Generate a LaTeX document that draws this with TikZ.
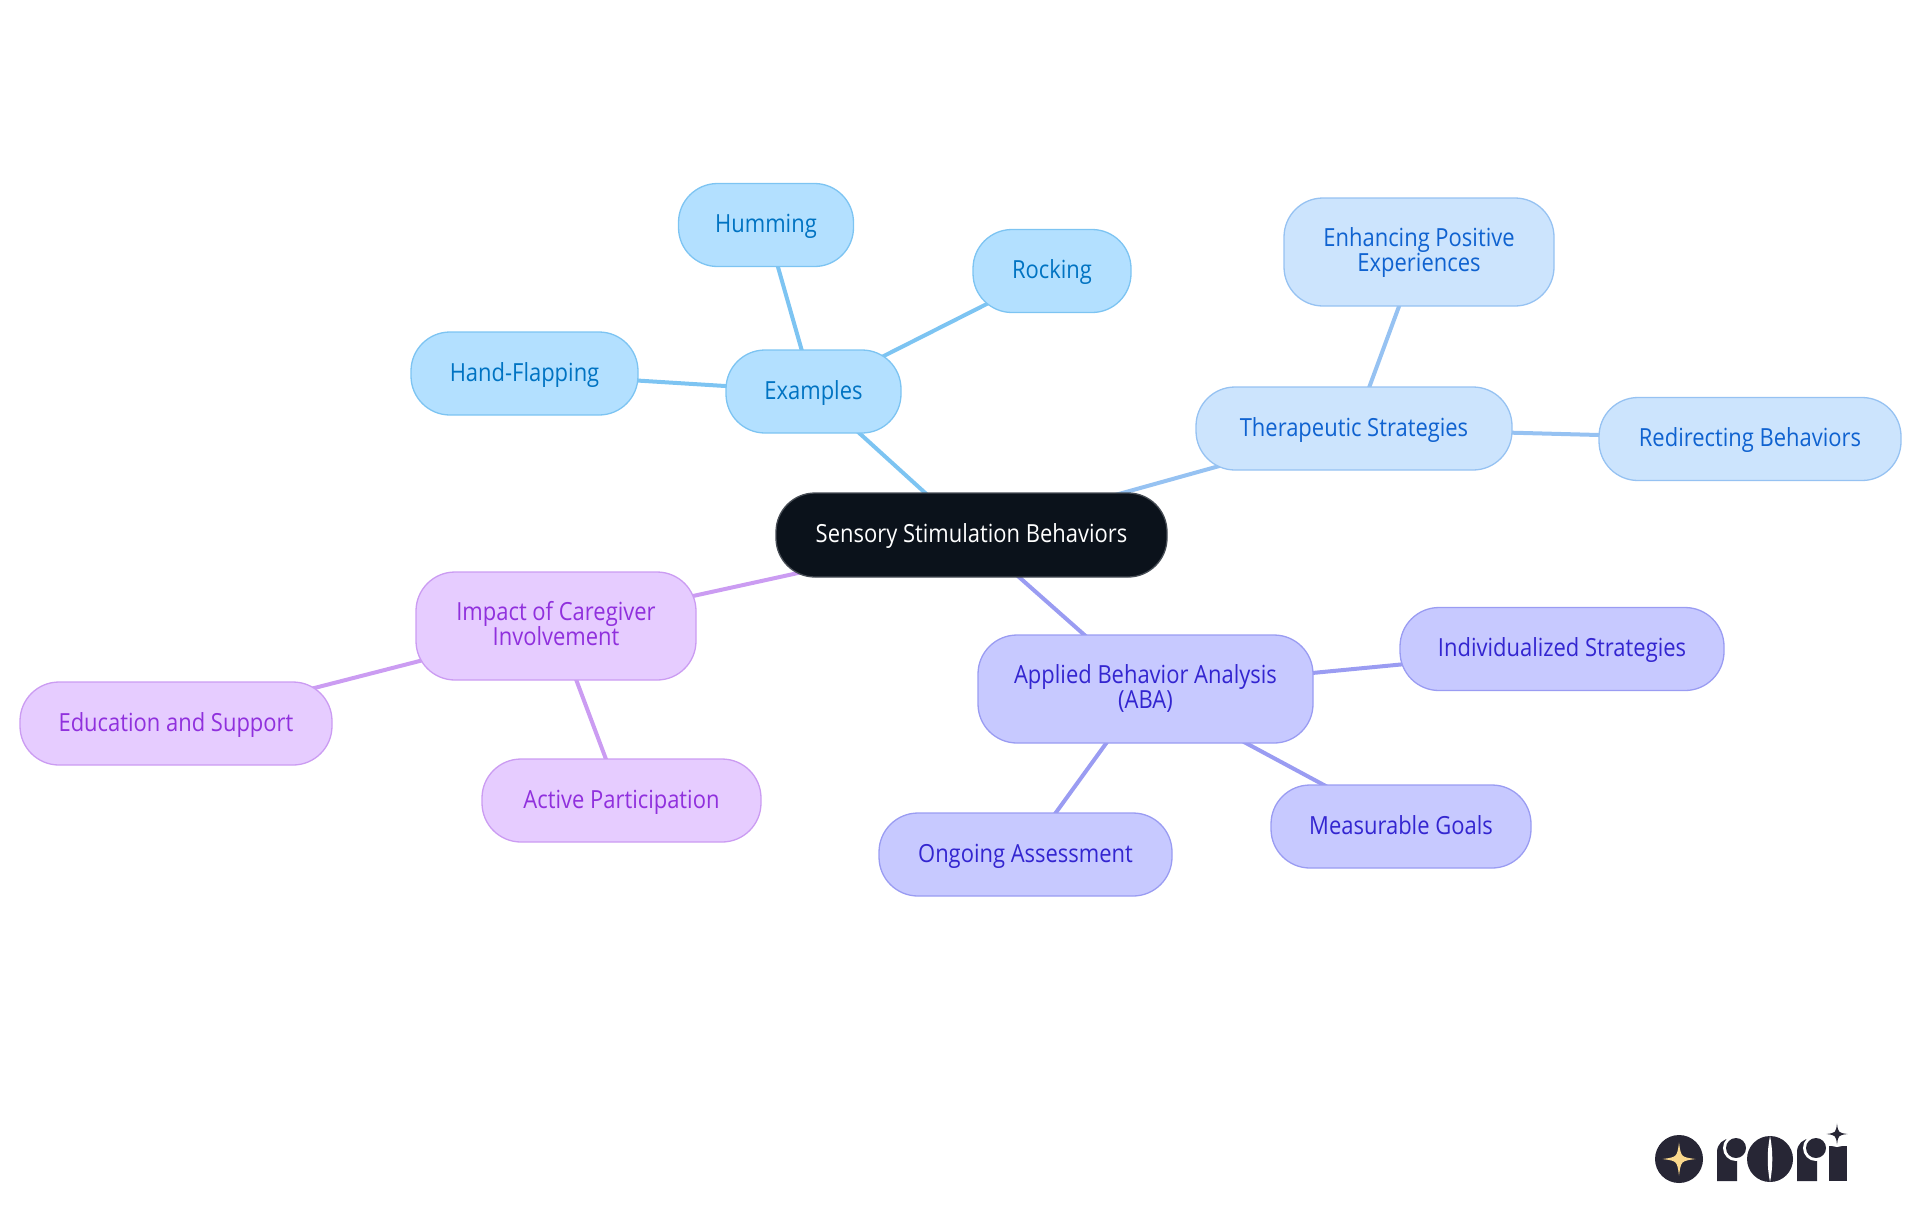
\documentclass[tikz,border=0pt]{standalone}
\usepackage{fontspec}
\usepackage{xcolor}
\usepackage{tikz}
\usetikzlibrary{
	backgrounds
}
\setmainfont[FakeStretch=0.88]{Open Sans}
\definecolor{RootFill}{RGB}{11,18,27}
\definecolor{RootLine}{RGB}{70,76,84}
\definecolor{SkyFill}{RGB}{179,224,255}
\definecolor{SkyLine}{RGB}{125,196,242}
\definecolor{SkyText}{RGB}{0,115,194}
\definecolor{PaleFill}{RGB}{204,228,253}
\definecolor{PaleLine}{RGB}{150,194,242}
\definecolor{PaleText}{RGB}{15,98,208}
\definecolor{IndigoFill}{RGB}{199,201,255}
\definecolor{IndigoLine}{RGB}{154,156,242}
\definecolor{IndigoText}{RGB}{51,37,208}
\definecolor{LilacFill}{RGB}{230,204,255}
\definecolor{LilacLine}{RGB}{203,156,242}
\definecolor{LilacText}{RGB}{144,48,221}
\definecolor{LogoDark}{RGB}{39,38,53}
\definecolor{LogoStar}{RGB}{250,216,140}
\newcommand{\linestrut}{\rule[-0.6mm]{0pt}{2.6mm}}
\setlength{\lineskiplimit}{-5pt}
\tikzset{
	mapnode/.style={rounded corners=0.39cm, align=center, inner sep=0pt, outer sep=0pt,
		line width=0.13mm, font=\fontsize{7.1}{7.11}\selectfont},
	rootnode/.style={mapnode, fill=RootFill, draw=RootLine, text=white},
	skynode/.style={mapnode, fill=SkyFill, draw=SkyLine, text=SkyText},
	palenode/.style={mapnode, fill=PaleFill, draw=PaleLine, text=PaleText},
	indigonode/.style={mapnode, fill=IndigoFill, draw=IndigoLine, text=IndigoText},
	lilacnode/.style={mapnode, fill=LilacFill, draw=LilacLine, text=LilacText},
	oneline/.style={text height=2.05mm, text depth=0.5mm},
	skyedge/.style={line width=0.4mm, draw=SkyLine},
	paleedge/.style={line width=0.4mm, draw=PaleLine},
	indigoedge/.style={line width=0.4mm, draw=IndigoLine},
	lilacedge/.style={line width=0.4mm, draw=LilacLine},
	sparkle/.pic={
		\fill[pic actions] (0,-1) .. controls (0.12,-0.12) .. (1,0) .. controls (0.12,0.12) .. (0,1)
			.. controls (-0.12,0.12) .. (-1,0) .. controls (-0.12,-0.12) .. (0,-1) -- cycle;
	}
}

\begin{document}
\begin{tikzpicture}[y=-1cm]
	\useasboundingbox (0,0) rectangle (19.2,12.15);
	\node[rootnode, oneline, minimum width=3.91cm, minimum height=0.84cm] (root) at (9.715,5.35) {Sensory Stimulation Behaviors};
	% blue branch
	\node[skynode, oneline, minimum width=1.75cm, minimum height=0.83cm] (examples) at (8.135,3.915) {Examples};
	\node[skynode, oneline, minimum width=1.75cm, minimum height=0.83cm] (humming) at (7.66,2.25) {Humming};
	\node[skynode, oneline, minimum width=1.58cm, minimum height=0.83cm] (rocking) at (10.52,2.71) {Rocking};
	\node[skynode, oneline, minimum width=2.27cm, minimum height=0.83cm] (flapping) at (5.245,3.735) {Hand-Flapping};
	% pale branch
	\node[palenode, oneline, minimum width=3.16cm, minimum height=0.83cm] (therapy) at (13.54,4.285) {Therapeutic Strategies};
	\node[palenode, minimum width=2.70cm, minimum height=1.08cm] (enhancing) at (14.19,2.52) {\linestrut Enhancing Positive\\\linestrut Experiences};
	\node[palenode, oneline, minimum width=3.02cm, minimum height=0.83cm] (redirecting) at (17.50,4.39) {Redirecting Behaviors};
	% indigo branch
	\node[indigonode, minimum width=3.35cm, minimum height=1.08cm] (aba) at (11.455,6.89) {\linestrut Applied Behavior Analysis\\\linestrut (ABA)};
	\node[indigonode, oneline, minimum width=3.24cm, minimum height=0.83cm] (individual) at (15.62,6.49) {Individualized Strategies};
	\node[indigonode, oneline, minimum width=2.60cm, minimum height=0.83cm] (goals) at (14.01,8.265) {Measurable Goals};
	\node[indigonode, oneline, minimum width=2.93cm, minimum height=0.83cm] (ongoing) at (10.255,8.545) {Ongoing Assessment};
	% lilac branch
	\node[lilacnode, minimum width=2.80cm, minimum height=1.08cm] (impact) at (5.56,6.26) {\linestrut Impact of Caregiver\\\linestrut Involvement};
	\node[lilacnode, oneline, minimum width=3.12cm, minimum height=0.83cm] (education) at (1.76,7.235) {Education and Support};
	\node[lilacnode, oneline, minimum width=2.79cm, minimum height=0.83cm] (active) at (6.215,8.005) {Active Participation};
	\begin{scope}[on background layer]
		\draw[skyedge] (root.center) -- (examples.center);
		\draw[skyedge] (examples.center) -- (humming.center);
		\draw[skyedge] (examples.center) -- (rocking.center);
		\draw[skyedge] (examples.center) -- (flapping.center);
		\draw[paleedge] (root.center) -- (therapy.center);
		\draw[paleedge] (therapy.center) -- (enhancing.center);
		\draw[paleedge] (therapy.center) -- (redirecting.center);
		\draw[indigoedge] (root.center) -- (aba.center);
		\draw[indigoedge] (aba.center) -- (individual.center);
		\draw[indigoedge] (aba.center) -- (goals.center);
		\draw[indigoedge] (aba.center) -- (ongoing.center);
		\draw[lilacedge] (root.center) -- (impact.center);
		\draw[lilacedge] (impact.center) -- (education.center);
		\draw[lilacedge] (impact.center) -- (active.center);
	\end{scope}
	% logo
	\fill[LogoDark] (16.79,11.59) circle (0.24);
	\path (16.79,11.59) pic[scale=0.165, fill=LogoStar] {sparkle};
	\fill[LogoDark] (17.17,11.81) -- (17.17,11.52) .. controls (17.17,11.44) and (17.23,11.385) .. (17.31,11.385) -- (17.37,11.385) -- (17.37,11.81) -- cycle;
	\fill[white] (17.36,11.48) circle (0.13);
	\fill[LogoDark] (17.36,11.48) circle (0.10);
	\fill[LogoDark] (17.70,11.59) circle (0.23);
	\fill[white] (17.70,11.36) .. controls (17.73,11.50) and (17.73,11.68) .. (17.70,11.82) .. controls (17.67,11.68) and (17.67,11.50) .. (17.70,11.36) -- cycle;
	\fill[LogoDark] (17.97,11.81) -- (17.97,11.52) .. controls (17.97,11.44) and (18.03,11.385) .. (18.11,11.385) -- (18.17,11.385) -- (18.17,11.81) -- cycle;
	\fill[white] (18.16,11.48) circle (0.13);
	\fill[LogoDark] (18.16,11.48) circle (0.10);
	\fill[LogoDark] (18.29,11.81) rectangle (18.47,11.46);
	\fill[white] (18.37,11.34) circle (0.13);
	\path (18.37,11.34) pic[scale=0.105, fill=LogoDark] {sparkle};
\end{tikzpicture}
\end{document}
